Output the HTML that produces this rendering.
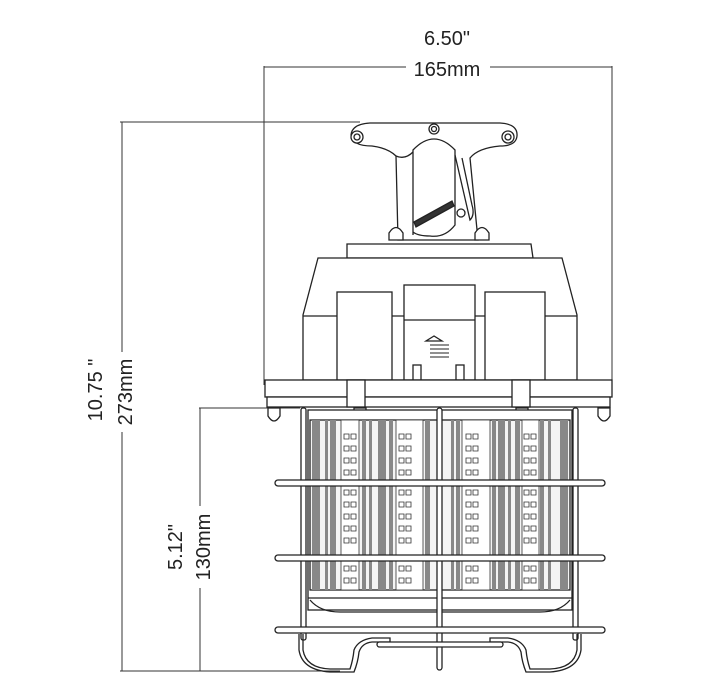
<!DOCTYPE html>
<html><head><style>html,body{margin:0;padding:0;background:#fff}svg{display:block}</style></head>
<body>
<svg width="702" height="700" viewBox="0 0 702 700" xmlns="http://www.w3.org/2000/svg" font-family="Liberation Sans, sans-serif">
<g stroke="#333" stroke-width="1" fill="none">
<line x1="264" y1="67" x2="406" y2="67"/><line x1="490" y1="67" x2="612" y2="67"/>
<line x1="264" y1="66" x2="264" y2="385"/><line x1="612" y1="66" x2="612" y2="385"/>
<line x1="122" y1="122" x2="122" y2="352"/><line x1="122" y1="432" x2="122" y2="671"/>
<line x1="120" y1="122" x2="360" y2="122"/>
<line x1="120" y1="671" x2="340" y2="671"/>
<line x1="200" y1="408" x2="200" y2="506"/><line x1="200" y1="588" x2="200" y2="671"/>
<line x1="199" y1="408" x2="300" y2="408"/>
</g>
<g fill="#222" font-size="20">
<text x="447" y="45" text-anchor="middle">6.50"</text>
<text x="447" y="76" text-anchor="middle">165mm</text>
<text transform="translate(102,390) rotate(-90)" text-anchor="middle">10.75 "</text>
<text transform="translate(132,392) rotate(-90)" text-anchor="middle">273mm</text>
<text transform="translate(182,547) rotate(-90)" text-anchor="middle">5.12"</text>
<text transform="translate(210,547) rotate(-90)" text-anchor="middle">130mm</text>
</g>
<g stroke="#222" stroke-width="1.3" fill="#fff">
<path d="M398 240 L396 156 Q388 148 372 146 Q352 146 351 135 Q352 124 370 123 L500 123 Q518 124 517 136 Q516 146 500 146 Q478 148 470 158 L478 240 Z"/>
<path d="M396 156 Q405 160 413 152" fill="none"/>
<path d="M413 235 L413 150 Q434 128 455 150 L455 225 Q445 238 430 236 Q418 236 413 232" />
<path d="M455 155 L470 220 Q475 215 472 205 L462 158" fill="none"/>
<circle cx="357" cy="137" r="6"/><circle cx="357" cy="137" r="3"/>
<circle cx="434" cy="129" r="5"/><circle cx="434" cy="129" r="2.5"/>
<circle cx="508" cy="137" r="6"/><circle cx="508" cy="137" r="3"/>
<circle cx="461" cy="213" r="4"/>
<path d="M414 222 L452 201 L454 206 L416 227 Z" fill="#333"/>
<path d="M389 240 L389 233 Q396 222 403 233 L403 240 Z"/>
<path d="M475 240 L475 233 Q482 222 489 233 L489 240 Z"/>
<path d="M347 258 L347 244 L531 244 L533 258 Z"/>
<path d="M303 380 L303 315 L318 258 L562 258 L577 315 L577 380 Z"/>
<line x1="303" y1="316" x2="577" y2="316"/>
<rect x="337" y="292" width="55" height="88"/>
<rect x="485" y="292" width="60" height="88"/>
<rect x="404" y="285" width="71" height="95"/>
<line x1="404" y1="320" x2="475" y2="320"/>
<path d="M434 336 L426 341 L442 341 Z" fill="#fff"/>
<g stroke-width="1"><line x1="430" y1="345" x2="449" y2="345"/><line x1="430" y1="349" x2="449" y2="349"/><line x1="430" y1="353" x2="449" y2="353"/><line x1="430" y1="357" x2="449" y2="357"/></g>
<rect x="413" y="365" width="8" height="15"/><rect x="456" y="365" width="8" height="15"/>
<rect x="265" y="380" width="347" height="17"/>
<rect x="267" y="397" width="343" height="10"/>
<rect x="347" y="380" width="18" height="27"/><rect x="512" y="380" width="18" height="27"/>
<path d="M268 408 L268 416 Q274 426 280 416 L280 408 Z"/>
<path d="M354 408 L354 416 Q360 426 366 416 L366 408 Z"/>
<path d="M516 408 L516 416 Q522 426 528 416 L528 408 Z"/>
<path d="M598 408 L598 416 Q604 426 610 416 L610 408 Z"/>
<rect x="308" y="410" width="264" height="200"/>
<rect x="310" y="420" width="260" height="170" fill="#f4f4f4"/>
</g>
<g fill="#888">
<rect x="312" y="420" width="8" height="170"/><rect x="325" y="420" width="3" height="170"/><rect x="330" y="420" width="6" height="170"/>
<rect x="362" y="420" width="4" height="170"/><rect x="369" y="420" width="3" height="170"/><rect x="378" y="420" width="8" height="170"/><rect x="389" y="420" width="4" height="170"/>
<rect x="425" y="420" width="5" height="170"/><rect x="451" y="420" width="3" height="170"/><rect x="456" y="420" width="4" height="170"/>
<rect x="492" y="420" width="4" height="170"/><rect x="498" y="420" width="7" height="170"/><rect x="508" y="420" width="3" height="170"/><rect x="515" y="420" width="5" height="170"/>
<rect x="540" y="420" width="4" height="170"/><rect x="548" y="420" width="3" height="170"/><rect x="560" y="420" width="8" height="170"/>
</g>
<g fill="#fff" stroke="#333" stroke-width="0.8">
<rect x="341" y="420" width="18" height="170"/><rect x="396" y="420" width="27" height="170"/>
<rect x="462" y="420" width="28" height="170"/><rect x="522" y="420" width="17" height="170"/>
</g>
<g id="sq" fill="none" stroke="#333" stroke-width="0.8">
<path d="M344 434h5v5h-5zM351 434h5v5h-5zM344 446h5v5h-5zM351 446h5v5h-5zM344 458h5v5h-5zM351 458h5v5h-5zM344 470h5v5h-5zM351 470h5v5h-5zM344 490h5v5h-5zM351 490h5v5h-5zM344 502h5v5h-5zM351 502h5v5h-5zM344 514h5v5h-5zM351 514h5v5h-5zM344 526h5v5h-5zM351 526h5v5h-5zM344 538h5v5h-5zM351 538h5v5h-5zM344 566h5v5h-5zM351 566h5v5h-5zM344 578h5v5h-5zM351 578h5v5h-5z"/>
</g>
<use href="#sq" x="55"/><use href="#sq" x="122"/><use href="#sq" x="180"/>
<g fill="none" stroke="#222" stroke-width="1.3">
<path d="M310 600 Q320 612 340 612 L540 612 Q560 612 570 600"/>
<line x1="308" y1="598" x2="572" y2="598"/>
<rect x="301" y="408" width="5" height="232" rx="2" fill="#fff"/>
<rect x="573" y="408" width="5" height="232" rx="2" fill="#fff"/>
<rect x="437" y="408" width="5" height="262" rx="2.5" fill="#fff"/>
<rect x="275" y="480" width="330" height="6" rx="3" fill="#fff"/>
<rect x="275" y="555" width="330" height="6" rx="3" fill="#fff"/>
<rect x="275" y="627" width="330" height="6" rx="3" fill="#fff"/>
<path d="M303 634 L303 650 Q306 668 330 669 L350 669 Q353 660 354 650 Q358 640 372 638 L390 638 L390 642 L372 642 Q362 643 359 652 Q358 662 354 672 L330 672 Q302 670 299 650 L299 634"/>
<path d="M577 634 L577 650 Q574 668 550 669 L530 669 Q527 660 526 650 Q522 640 508 638 L490 638 L490 642 L508 642 Q518 643 521 652 Q522 662 526 672 L550 672 Q578 670 581 650 L581 634"/>
<rect x="377" y="642" width="126" height="5" rx="2.5" fill="#fff"/>
</g>
</svg>
</body></html>
